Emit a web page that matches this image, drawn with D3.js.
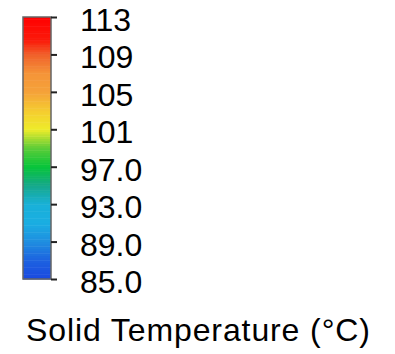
<!DOCTYPE html>
<html>
<head>
<meta charset="utf-8">
<script src="https://cdn.jsdelivr.net/npm/d3@7"></script>
<style>
  body { margin: 0; background: #fff; }
  text { font-family: "Liberation Sans", Arial, sans-serif; fill: #000; }
</style>
</head>
<body>
<svg id="legend" width="395" height="354"></svg>
<script>
const tickValues = [85, 89, 93, 97, 101, 105, 109, 113];
const tickLabels = ["85.0", "89.0", "93.0", "97.0", "101", "105", "109", "113"];
const stopValues = [85, 87, 89, 91, 93, 95, 97, 99, 101, 103, 105, 107, 109, 110.5, 113];
const stopColors = ["#1a48e0", "#1d62e0", "#1f8ee0", "#1aaee2", "#19b0d8", "#15a88a", "#06c43a", "#5ccc38",
  "#eeec2a", "#f5cc30", "#f5a23a", "#f59438", "#f0602a", "#fb1a0a", "#ff0000"];
const title = "Solid Temperature (°C)";

const bar = { x: 23, w: 28, top: 17, bottom: 279 };

const svg = d3.select("#legend");

const y = d3.scaleLinear()
  .domain([85, 113])
  .range([bar.bottom, bar.top]);

const color = d3.scaleLinear()
  .domain(stopValues)
  .range(stopColors);

// thin bands to fill the bar
const step = 0.25;
const bands = d3.range(85, 113, step);

svg.append("g")
  .selectAll("rect")
  .data(bands)
  .join("rect")
  .attr("x", bar.x)
  .attr("width", bar.w)
  .attr("y", d => y(d + step))
  .attr("height", d => y(d) - y(d + step) + 0.5)
  .attr("fill", d => color(d + step / 2));

svg.append("rect")
  .attr("x", bar.x)
  .attr("y", bar.top)
  .attr("width", bar.w)
  .attr("height", bar.bottom - bar.top)
  .attr("fill", "none")
  .attr("stroke", "#666")
  .attr("stroke-width", 1.5);

const axis = d3.axisRight(y)
  .tickValues(tickValues)
  .tickFormat((d, i) => tickLabels[i])
  .tickSize(6)
  .tickPadding(23);

const g = svg.append("g")
  .attr("transform", `translate(${bar.x + bar.w},0)`)
  .call(axis);

g.select(".domain").remove();
g.selectAll(".tick line").attr("stroke", "#222").attr("stroke-width", 2);
g.selectAll(".tick text")
  .attr("font-size", 32)
  .attr("dy", "0.42em")
  .style("font-family", "'Liberation Sans', Arial, sans-serif")
  .attr("fill", "#000");

svg.append("text")
  .attr("x", 26)
  .attr("y", 341)
  .attr("font-size", 32)
  .attr("textLength", 344)
  .attr("lengthAdjust", "spacing")
  .text(title);
</script>
</body>
</html>
